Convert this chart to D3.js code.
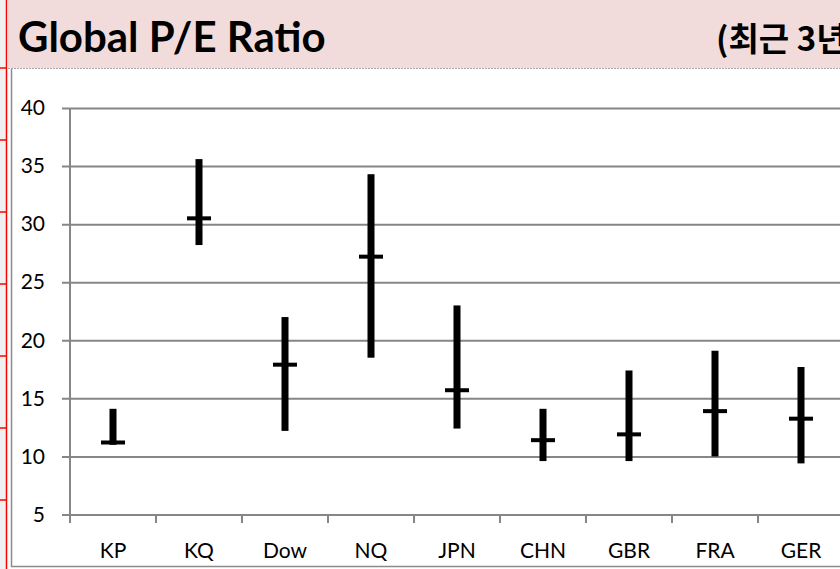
<!DOCTYPE html>
<html>
<head>
<meta charset="utf-8">
<script src="https://cdn.jsdelivr.net/npm/d3@7"></script>
<style>
  body { margin: 0; background: #fff; }
  svg text { font-family: Lato, "Noto Sans", sans-serif; fill: #000; }
</style>
</head>
<body>
<div id="chart"></div>
<script>
// P/E ratio range over the last 3 years: high, low, current
var categories = ["KP", "KQ", "Dow", "NQ", "JPN", "CHN", "GBR", "FRA", "GER"];
var highValues = [14.1, 35.6, 22.0, 34.3, 23.0, 14.1, 17.4, 19.1, 17.7];
var lowValues = [11.0, 28.2, 12.2, 18.5, 12.4, 9.6, 9.6, 10.0, 9.4];
var currentValues = [11.2, 30.5, 17.9, 27.2, 15.7, 11.4, 11.9, 13.9, 13.25];
var yTicks = [5, 10, 15, 20, 25, 30, 35, 40];
var sheetRows = [68, 140, 212, 284, 356, 428, 500];

var W = 840, H = 569;

var svg = d3.select("#chart")
    .append("svg")
    .attr("width", W)
    .attr("height", H);

// spreadsheet edge on the left
svg.append("rect")
    .attr("x", 0).attr("y", 0)
    .attr("width", 6.5).attr("height", H)
    .attr("fill", "#f0f0f0");
svg.selectAll(".rowline")
    .data(sheetRows)
    .enter()
    .append("line")
    .attr("x1", 0).attr("x2", 7)
    .attr("y1", d => d).attr("y2", d => d)
    .attr("stroke", "#ff0000")
    .attr("stroke-width", 1.5);
svg.append("line")
    .attr("x1", 6.5).attr("x2", 6.5)
    .attr("y1", 0).attr("y2", H)
    .attr("stroke", "#ff0000")
    .attr("stroke-width", 1.5);

// title band
svg.append("rect")
    .attr("x", 7.5).attr("y", 0)
    .attr("width", W).attr("height", 68)
    .attr("fill", "#f2dcdb");

svg.append("text")
    .attr("x", 18)
    .attr("y", 52)
    .style("font-size", "42px")
    .style("font-weight", "bold")
    .text("Global P/E Ratio");

// subtitle runs past the right edge, as in the original crop
svg.append("text")
    .attr("x", 716)
    .attr("y", 51)
    .style("font-family", "'Noto Sans CJK KR', sans-serif")
    .style("font-size", "33px")
    .style("font-weight", "bold")
    .text("(최근 3년");

// chart frame
svg.append("line")
    .attr("x1", 8).attr("x2", W)
    .attr("y1", 68.5).attr("y2", 68.5)
    .attr("stroke", "#a6a6a6")
    .attr("stroke-dasharray", "2,1");
svg.append("line")
    .attr("x1", 11.5).attr("x2", 11.5)
    .attr("y1", 69).attr("y2", 567)
    .attr("stroke", "#8c8c8c")
    .attr("stroke-width", 1.5);
svg.append("line")
    .attr("x1", 11).attr("x2", W)
    .attr("y1", 566.5).attr("y2", 566.5)
    .attr("stroke", "#8c8c8c")
    .attr("stroke-width", 1.5);

// scales
var x = d3.scaleBand()
    .domain(categories)
    .range([70, 70 + 86 * categories.length]);

var y = d3.scaleLinear()
    .domain([5, 40])
    .range([514.5, 108]);

// y gridlines + labels
var yAxis = d3.axisLeft(y)
    .tickValues(yTicks)
    .tickSize(-(W - 62))
    .tickPadding(17);

svg.append("g")
    .attr("class", "y axis")
    .attr("transform", "translate(62,0)")
    .call(yAxis)
    .call(function (g) {
      g.select(".domain").remove();
      g.selectAll(".tick line").attr("stroke", "#868686").attr("stroke-width", 2);
      g.selectAll(".tick text").style("font-size", "21px");
    });

// x axis labels
var xAxis = d3.axisBottom(x)
    .tickSize(0)
    .tickPadding(29);

svg.append("g")
    .attr("class", "x axis")
    .attr("transform", "translate(0," + y(5) + ")")
    .call(xAxis)
    .call(function (g) {
      g.select(".domain").remove();
      g.selectAll(".tick text").style("font-size", "21px");
    });

// category boundary ticks
svg.selectAll(".xtick")
    .data(categories)
    .enter()
    .append("line")
    .attr("x1", d => x(d)).attr("x2", d => x(d))
    .attr("y1", y(5)).attr("y2", y(5) + 8.5)
    .attr("stroke", "#868686")
    .attr("stroke-width", 2);

// y axis line
svg.append("line")
    .attr("x1", x.range()[0]).attr("x2", x.range()[0])
    .attr("y1", y(40)).attr("y2", y(5) + 8.5)
    .attr("stroke", "#868686")
    .attr("stroke-width", 2);

var data = categories.map(function (c, i) {
  return { name: c, high: highValues[i], low: lowValues[i], cur: currentValues[i] };
});

var cx = function (d) { return x(d.name) + x.bandwidth() / 2; };

// high-low bars
svg.selectAll(".range")
    .data(data)
    .enter()
    .append("rect")
    .attr("class", "range")
    .attr("x", d => cx(d) - 3.5)
    .attr("width", 7)
    .attr("y", d => y(d.high))
    .attr("height", d => y(d.low) - y(d.high))
    .attr("fill", "#000");

// current value marks
svg.selectAll(".cur")
    .data(data)
    .enter()
    .append("rect")
    .attr("class", "cur")
    .attr("x", d => cx(d) - 12)
    .attr("width", 24)
    .attr("y", d => y(d.cur) - 2)
    .attr("height", 4)
    .attr("fill", "#000");
</script>
</body>
</html>
